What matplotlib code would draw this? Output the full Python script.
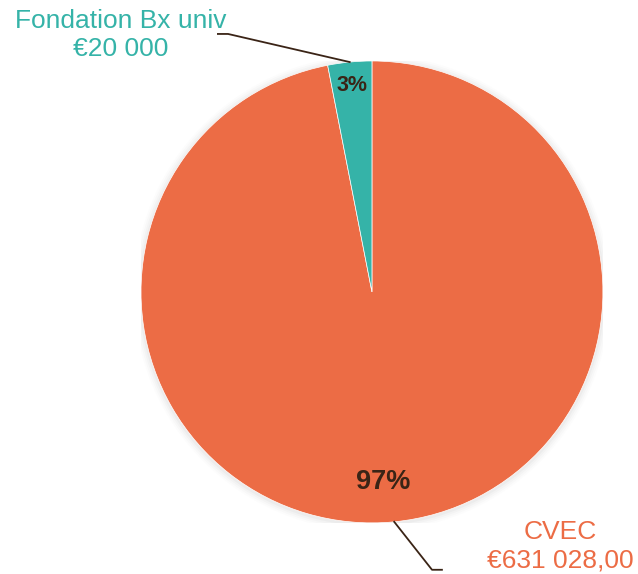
import numpy as np
import matplotlib
matplotlib.use("Agg")
import matplotlib.pyplot as plt
from matplotlib.patches import Circle

labels = ["CVEC", "Fondation Bx univ"]
values = [631028.00, 20000]
value_labels = ["€631 028,00", "€20 000"]
colors = ["#EC6C45", "#35B3A8"]

plt.rcParams['font.family'] = ['Liberation Sans', 'DejaVu Sans']

fig = plt.figure(figsize=(6.38, 5.74), dpi=100)
ax = fig.add_axes([0.221, 0.0889, 0.724, 0.805])
ax.axis('off')

# soft shadow
for i, a in enumerate([0.05, 0.04, 0.03, 0.02]):
    ax.add_patch(Circle((0.0, -0.005), 1.0 + 0.008 * (i + 1), color='#888888', alpha=a, lw=0, zorder=0))

wedges, _ = ax.pie(values, colors=colors, startangle=90, counterclock=False, radius=1,
                   wedgeprops=dict(linewidth=0.5, edgecolor='white'))
for w in wedges:
    w.set_zorder(2)
ax.set_xlim(-1, 1)
ax.set_ylim(-1, 1)
ax.set_aspect('equal')

total = sum(values)
pcts = [v / total * 100 for v in values]
mids = []
start = 90.0
for v in values:
    sweep = v / total * 360
    mids.append(start - sweep / 2)
    start -= sweep

pct_pos = [(0.82, -0.03, -0.005), (0.90, 0.0, 0.0)]
pct_fs = [19.5, 15.5]
for m, p, (r, dx, dy), fs in zip(mids, pcts, pct_pos, pct_fs):
    t = np.deg2rad(m)
    ax.text(r * np.cos(t) + dx, r * np.sin(t) + dy, f"{p:.0f}%", ha='center', va='center',
            fontsize=fs, fontweight='bold', color='#3a2416', zorder=5)

line_c = '#3a2416'
# Fondation leader
t = np.deg2rad(mids[1])
ax.plot([np.cos(t), -0.623, -0.667], [np.sin(t), 1.117, 1.117], color=line_c, lw=1.3,
        clip_on=False, zorder=4)
# CVEC leader
t = np.deg2rad(mids[0])
ax.plot([np.cos(t), 0.26, 0.303], [np.sin(t), -1.203, -1.203], color=line_c, lw=1.3,
        clip_on=False, zorder=4)

fig.text(121 / 638, 1 - 35 / 574, f"{labels[1]}\n{value_labels[1]}", ha='center', va='center',
         fontsize=19, color=colors[1], linespacing=1.25)
fig.text(560 / 638, 1 - 546 / 574, f"{labels[0]}\n{value_labels[0]}", ha='center', va='center',
         fontsize=19, color=colors[0], linespacing=1.25)

fig.savefig("out.png", dpi=100)
